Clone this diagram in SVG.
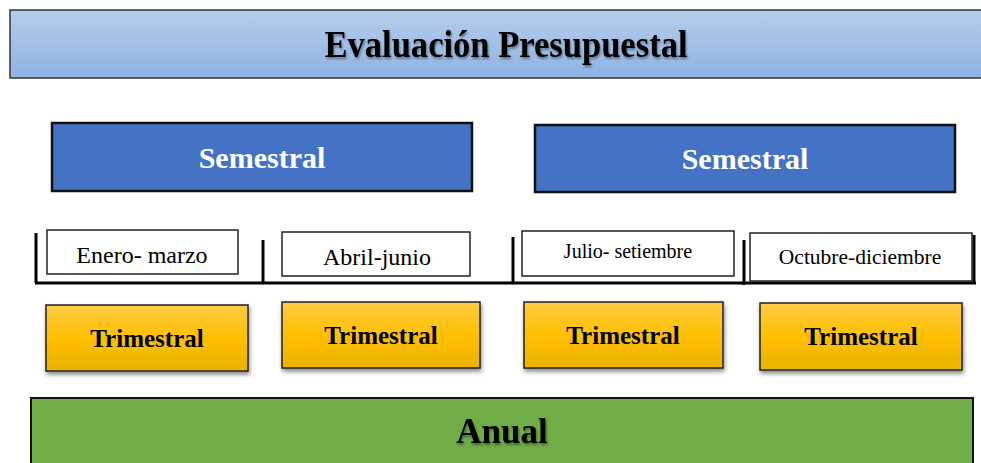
<svg xmlns="http://www.w3.org/2000/svg" width="981" height="463" viewBox="0 0 981 463">
<defs>
  <linearGradient id="gTitle" x1="0" y1="0" x2="0" y2="1">
    <stop offset="0" stop-color="#b5cdeb"/>
    <stop offset="1" stop-color="#8fb3e2"/>
  </linearGradient>
  <linearGradient id="gTri" x1="0" y1="0" x2="0" y2="1">
    <stop offset="0" stop-color="#ffcb45"/>
    <stop offset="0.5" stop-color="#ffc000"/>
    <stop offset="1" stop-color="#e9b300"/>
  </linearGradient>
  <filter id="boxShadow" x="-10%" y="-20%" width="120%" height="150%">
    <feDropShadow dx="1" dy="3" stdDeviation="2" flood-color="#000" flood-opacity="0.45"/>
  </filter>
  <filter id="txtShadow" x="-10%" y="-30%" width="120%" height="160%">
    <feDropShadow dx="1" dy="2" stdDeviation="1.2" flood-color="#000" flood-opacity="0.4"/>
  </filter>
</defs>
<style>
  .serif { font-family: "Liberation Serif", "Times New Roman", serif; }
  .bold { font-weight: bold; }
  .sem { fill: #4472c4; stroke: #111; stroke-width: 2.5; }
  .month { fill: #fff; stroke: #222; stroke-width: 1.5; }
  .tri { fill: url(#gTri); stroke: #222; stroke-width: 1.5; filter: url(#boxShadow); }
  .bar { stroke: #000; stroke-width: 3; fill: none; }
</style>
<rect width="981" height="463" fill="#fff"/>

<g id="title">
  <rect x="10" y="10" width="980" height="68" fill="url(#gTitle)" stroke="#333" stroke-width="1.5"/>
  <text x="506" y="57" text-anchor="middle" class="serif bold" font-size="37" textLength="363" lengthAdjust="spacingAndGlyphs" fill="#000" filter="url(#txtShadow)">Evaluación Presupuestal</text>
</g>

<g id="semestral-1">
  <rect x="52" y="123" width="420" height="68" class="sem"/>
  <text x="262" y="168" text-anchor="middle" class="serif bold" font-size="30" fill="#fff">Semestral</text>
</g>
<g id="semestral-2">
  <rect x="535" y="125" width="420" height="67" class="sem"/>
  <text x="745" y="169" text-anchor="middle" class="serif bold" font-size="30" fill="#fff">Semestral</text>
</g>

<g id="connectors">
  <path class="bar" d="M36 233 V283 M35 283 H976"/>
  <path class="bar" d="M263 240 V283"/>
  <path class="bar" d="M513 237 V283"/>
  <path class="bar" d="M744 240 V285"/>
  <path class="bar" d="M974 235 V283"/>
</g>

<g id="enero-marzo">
  <rect x="47" y="230" width="191" height="44" class="month"/>
  <text x="142" y="263" text-anchor="middle" class="serif" font-size="24" fill="#000">Enero- marzo</text>
</g>
<g id="abril-junio">
  <rect x="282" y="232" width="188" height="44" class="month"/>
  <text x="377" y="265" text-anchor="middle" class="serif" font-size="24" fill="#000">Abril-junio</text>
</g>
<g id="julio-setiembre">
  <rect x="522" y="231" width="212" height="45" class="month"/>
  <text x="628" y="258" text-anchor="middle" class="serif" font-size="20" fill="#000">Julio- setiembre</text>
</g>
<g id="octubre-diciembre">
  <rect x="750" y="233" width="222" height="48" class="month" stroke-width="2"/>
  <text x="860" y="264" text-anchor="middle" class="serif" font-size="21.5" fill="#000">Octubre-diciembre</text>
</g>

<g id="trimestral-1">
  <rect x="46" y="305" width="202" height="66" class="tri"/>
  <text x="147" y="347" text-anchor="middle" class="serif bold" font-size="25" fill="#000">Trimestral</text>
</g>
<g id="trimestral-2">
  <rect x="282" y="302" width="198" height="66" class="tri"/>
  <text x="381" y="344" text-anchor="middle" class="serif bold" font-size="25" fill="#000">Trimestral</text>
</g>
<g id="trimestral-3">
  <rect x="524" y="302" width="199" height="66" class="tri"/>
  <text x="623" y="344" text-anchor="middle" class="serif bold" font-size="25" fill="#000">Trimestral</text>
</g>
<g id="trimestral-4">
  <rect x="760" y="303" width="202" height="67" class="tri"/>
  <text x="861" y="345" text-anchor="middle" class="serif bold" font-size="25" fill="#000">Trimestral</text>
</g>

<g id="anual">
  <rect x="31" y="398" width="942" height="80" fill="#70ad47" stroke="#111" stroke-width="2"/>
  <text x="502" y="443" text-anchor="middle" class="serif bold" font-size="35" fill="#000" filter="url(#txtShadow)">Anual</text>
</g>
</svg>
